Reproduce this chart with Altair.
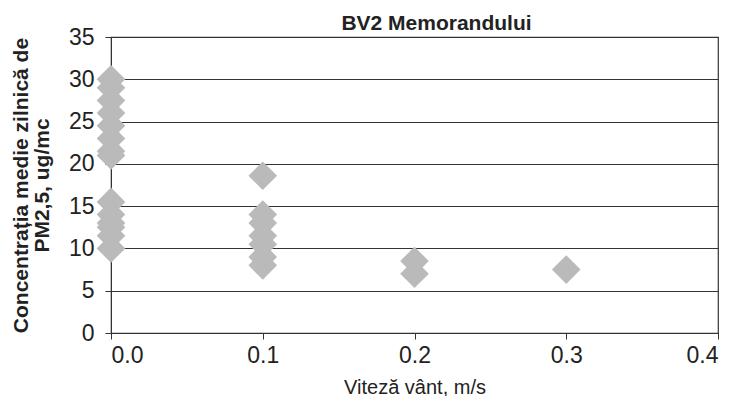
import altair as alt
import pandas as pd

x0_vals = [30, 29, 27.5, 26, 24.5, 23, 21.5, 21, 15.5, 14, 13, 12.5, 11.5, 10]
x1_vals = [18.6, 14, 13, 11.5, 10.5, 9, 8]
x2_vals = [8.5, 7]
x3_vals = [7.5]

speeds = [0.0] * len(x0_vals) + [0.1] * len(x1_vals) + [0.2] * len(x2_vals) + [0.3] * len(x3_vals)
conc = x0_vals + x1_vals + x2_vals + x3_vals

df = pd.DataFrame({"viteza": speeds, "conc": conc})

font = "Liberation Sans"

chart = alt.Chart(df).mark_point(
    shape="diamond", filled=True, size=820, color="#bababa", opacity=1
).encode(
    x=alt.X("viteza:Q", scale=alt.Scale(domain=[0, 0.4], nice=False),
            axis=alt.Axis(values=[0, 0.1, 0.2, 0.3, 0.4], format=".1f", grid=False,
                          title="Viteză vânt, m/s", titleFontWeight="normal",
                          titleFontSize=20, titlePadding=10, labelFontSize=23,
                          labelPadding=5, tickSize=6, domainColor="#333", tickColor="#333",
                          labelColor="#222", titleColor="#222")),
    y=alt.Y("conc:Q", scale=alt.Scale(domain=[0, 35], nice=False),
            axis=alt.Axis(values=[0, 5, 10, 15, 20, 25, 30, 35], grid=True, gridColor="#333",
                          gridWidth=1.2,
                          title=["Concentrația medie zilnică de", "PM2,5, ug/mc"],
                          titleFontWeight="bold", titleFontSize=21, titlePadding=16,
                          titleLineHeight=21,
                          labelFontSize=23, labelPadding=11, tickSize=6,
                          domainColor="#333", tickColor="#333", labelColor="#222",
                          titleColor="#222")),
).properties(
    width=607, height=296,
    title=alt.TitleParams("BV2 Memorandului", fontSize=21, fontWeight="bold", font=font,
                          color="#222", offset=-8, dx=22),
    autosize=alt.AutoSizeParams(type="none"),
    padding={"left": 103, "top": 29, "right": 10, "bottom": 63},
).configure_axis(
    labelFont=font, titleFont=font
).configure_view(
    stroke="#333", strokeWidth=1.2
)

chart.save("out.html", embed_options={"renderer": "svg", "actions": False})
